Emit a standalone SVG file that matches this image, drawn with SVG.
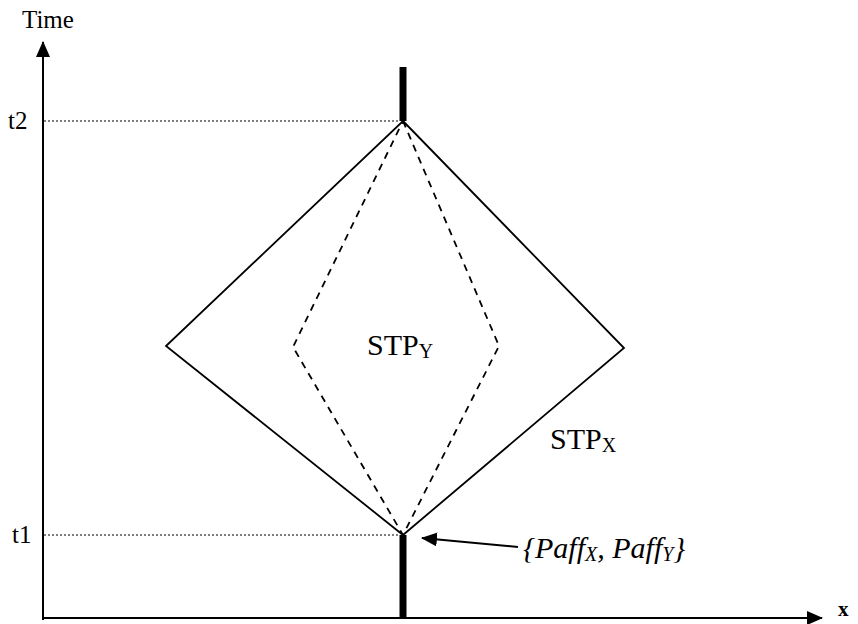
<svg xmlns="http://www.w3.org/2000/svg" width="858" height="624" viewBox="0 0 858 624">
<style>
.t{font-family:"Liberation Serif","Times New Roman",serif;fill:#000}
.ax{stroke:#000;stroke-width:2;fill:none}
.dot{stroke:#000;stroke-width:1;stroke-dasharray:2,2;fill:none}
.solid{stroke:#000;stroke-width:1.8;fill:none}
.dash{stroke:#000;stroke-width:1.8;stroke-dasharray:7,6;fill:none}
.bar{stroke:#000;stroke-width:7;fill:none}
</style>
<defs>
<marker id="ah" markerWidth="16" markerHeight="14" refX="15" refY="7" orient="auto" markerUnits="userSpaceOnUse">
<path d="M0,0 L16,7 L0,14 Z" fill="#000"/>
</marker>
</defs>
<g id="axes">
<line class="ax" x1="43" y1="620" x2="43" y2="42" marker-end="url(#ah)"/>
<line class="ax" x1="42" y1="618" x2="822" y2="618" marker-end="url(#ah)"/>
<text class="t" x="22" y="28" font-size="25">Time</text>
<text class="t" x="838" y="616" font-size="21" font-weight="bold">x</text>
</g>
<g id="t2">
<line class="dot" x1="44" y1="121" x2="400" y2="121"/>
<text class="t" x="8" y="129" font-size="25">t2</text>
</g>
<g id="t1">
<line class="dot" x1="44" y1="535" x2="400" y2="535"/>
<text class="t" x="12" y="543" font-size="25">t1</text>
</g>
<g id="worldline">
<line class="bar" x1="403" y1="67" x2="403" y2="121"/>
<line class="bar" x1="403" y1="535" x2="403" y2="618"/>
</g>
<g id="stpx">
<polygon class="solid" points="403,121 624,348 403,535 166,346"/>
<text class="t" x="550" y="449" font-size="30">STP<tspan font-size="20" dy="3">X</tspan></text>
</g>
<g id="stpy">
<polygon class="dash" points="403,121 499,346 403,535 293,347"/>
<text class="t" x="367" y="355" font-size="30">STP<tspan font-size="20" dy="3">Y</tspan></text>
</g>
<g id="connectors">
<line stroke="#000" stroke-width="2" x1="518" y1="547" x2="422" y2="538" marker-end="url(#ah)"/>
</g>
<g id="paff">
<text class="t" x="523" y="558" font-size="30" font-style="italic">{Paff<tspan font-size="20" dy="3">X</tspan><tspan dy="-3">, Paff</tspan><tspan font-size="20" dy="3">Y</tspan><tspan dy="-3">}</tspan></text>
</g>
</svg>
